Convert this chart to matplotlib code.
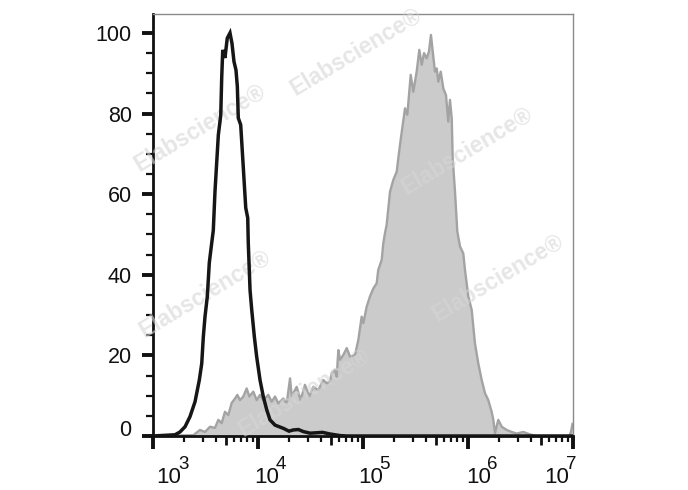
import numpy as np
import matplotlib
matplotlib.use("Agg")
import matplotlib.pyplot as plt
from matplotlib.ticker import FixedLocator, NullFormatter, MultipleLocator
import matplotlib.transforms as mtransforms

# ---------------- data (log10 of fluorescence, % of max) ----------------
black_logx = [3.0, 3.214, 3.262, 3.310, 3.357, 3.405, 3.446, 3.469, 3.484, 3.500,
              3.522, 3.541, 3.564, 3.579, 3.595, 3.627, 3.650, 3.659, 3.669, 3.690,
              3.712, 3.738, 3.757, 3.776, 3.795, 3.808, 3.817, 3.840, 3.865, 3.888,
              3.907, 3.912, 3.929, 3.945, 3.970, 3.992, 4.024, 4.055, 4.088, 4.119,
              4.167, 4.246, 4.300, 4.341, 4.390, 4.436, 4.500, 4.564, 4.620, 4.690,
              4.786, 4.850, 7.0]
black_y = [0, 0.3, 1.0, 2.3, 4.8, 8.5, 13.9, 18.0, 24.6, 29.6,
           34.6, 43.0, 47.9, 51.0, 60.6, 74.7, 79.6, 88.8, 95.8, 93.8,
           98.7, 100.0, 97.4, 92.9, 90.8, 86.7, 78.9, 77.2, 66.5, 56.6,
           54.1, 48.0, 36.2, 31.3, 24.6, 19.7, 13.9, 9.8, 6.5, 4.0,
           2.7, 1.9, 1.2, 1.5, 1.6, 1.1, 0.7, 0.8, 0.9, 0.5,
           0.1, 0, 0]

gray_logx = [3.0, 3.389, 3.452, 3.500, 3.548, 3.595, 3.627, 3.659, 3.690, 3.722,
             3.754, 3.786, 3.808, 3.833, 3.865, 3.897, 3.922, 3.960, 3.992, 4.024,
             4.055, 4.103, 4.135, 4.167, 4.198, 4.246, 4.278, 4.310, 4.326, 4.373,
             4.411, 4.452, 4.493, 4.531, 4.579, 4.627, 4.659, 4.690, 4.707, 4.738,
             4.754, 4.770, 4.786, 4.817, 4.850, 4.881, 4.929, 4.960, 4.992, 5.008,
             5.040, 5.071, 5.103, 5.135, 5.150, 5.183, 5.198, 5.214, 5.230, 5.262,
             5.293, 5.326, 5.341, 5.357, 5.383, 5.405, 5.427, 5.459, 5.484, 5.516,
             5.541, 5.564, 5.586, 5.611, 5.633, 5.652, 5.669, 5.690, 5.707, 5.722,
             5.745, 5.770, 5.795, 5.817, 5.833, 5.850, 5.859, 5.881, 5.903, 5.929,
             5.960, 5.976, 6.008, 6.040, 6.071, 6.103, 6.135, 6.167, 6.198, 6.230,
             6.246, 6.262, 6.293, 6.326, 6.373, 6.421, 6.469, 6.531, 6.595, 6.659,
             6.970, 6.985, 7.0]
gray_y = [0, 0.2, 1.5, 1.0, 2.3, 2.0, 4.0, 3.2, 6.0, 5.2,
          8.2, 9.3, 10.2, 8.9, 9.8, 11.8, 9.8, 11.0, 8.9, 10.2,
          8.9, 10.2, 8.5, 9.8, 8.1, 9.3, 8.1, 14.3, 9.8, 12.2,
          8.9, 12.7, 9.8, 12.2, 11.4, 13.9, 13.1, 13.5, 15.6, 16.4,
          14.7, 21.3, 18.9, 20.1, 21.8, 19.7, 20.1, 23.8, 29.6, 28.0,
          32.1, 34.6, 36.6, 37.9, 41.2, 43.7, 47.8, 50.3, 52.4, 60.6,
          63.5, 65.6, 68.9, 72.2, 77.2, 81.3, 79.7, 89.6, 85.4, 90.4,
          95.8, 92.1, 95.0, 93.7, 95.4, 99.5, 95.4, 90.4, 91.2, 87.9,
          90.4, 86.2, 84.6, 78.0, 83.4, 78.8, 68.9, 60.6, 50.7, 47.0,
          45.3, 41.2, 34.6, 31.3, 23.0, 18.0, 13.9, 10.6, 8.9, 6.0,
          4.0, 0.7, 4.0, 2.3, 1.5, 1.0, 0.6, 1.0, 0.4, 0,
          0, 1.0, 3.0]

decades = [3, 4, 5, 6, 7]
y_major = [0, 20, 40, 60, 80, 100]
watermark = "Elabscience®"

FONT = ["Liberation Sans Narrow", "Liberation Sans", "DejaVu Sans"]
plt.rcParams["font.family"] = FONT

W, H = 688, 490
fig = plt.figure(figsize=(W / 100, H / 100), dpi=100)
ax = fig.add_axes([152.5 / W, 1 - 436 / H, (572.5 - 152.5) / W, (436 - 14) / H])

gx = 10 ** np.array(gray_logx)
bx = 10 ** np.array(black_logx)
ax.fill_between(gx, gray_y, 0, color="#cbcbcb", lw=0, zorder=1)
ax.plot(gx, gray_y, color="#a3a3a3", lw=1.7, zorder=2)
ax.plot(bx, black_y, color="#161616", lw=2.5, zorder=4, solid_joinstyle="miter")

ax.set_xscale("log")
ax.set_xlim(10 ** decades[0], 10 ** decades[-1])
ax.set_ylim(0, 104.7)

# x ticks: decades (long), 5x (medium), others (short)
fives = [5 * 10 ** d for d in decades[:-1]]
major_locs = sorted([10 ** d for d in decades] + fives)
minor_locs = [m * 10 ** d for d in decades[:-1] for m in (2, 3, 4, 6, 7, 8, 9)]
ax.xaxis.set_major_locator(FixedLocator(major_locs))
ax.xaxis.set_minor_locator(FixedLocator(minor_locs))
ax.xaxis.set_major_formatter(NullFormatter())
ax.xaxis.set_minor_formatter(NullFormatter())
ax.tick_params(axis="x", which="major", direction="out", length=9, width=2.8, color="#111111")
ax.tick_params(axis="x", which="minor", direction="out", length=4.5, width=1.6, color="#111111")
fig.canvas.draw()
for t in ax.xaxis.get_major_ticks():
    loc = t.get_loc()
    if loc is not None and any(abs(loc - f) / f < 1e-6 for f in fives):
        t.tick1line.set_markersize(6.5)
        t.tick1line.set_markeredgewidth(2.0)

# y ticks
ax.yaxis.set_major_locator(FixedLocator(y_major))
ax.yaxis.set_minor_locator(MultipleLocator(5))
ax.tick_params(axis="y", which="major", direction="out", length=8, width=2.8,
               color="#111111", pad=7, labelsize=15.5, labelcolor="#111111")
ax.tick_params(axis="y", which="minor", direction="out", length=5, width=1.6, color="#111111")
ax.set_yticklabels([str(v) for v in y_major])
fig.canvas.draw()
lbl0 = ax.yaxis.get_major_ticks()[0].label1
lbl0.set_transform(lbl0.get_transform() + mtransforms.ScaledTranslation(0, 8 / 100, fig.dpi_scale_trans))

for side in ("left", "bottom"):
    ax.spines[side].set_color("#111111")
    ax.spines[side].set_linewidth(2.0)
for side in ("top", "right"):
    ax.spines[side].set_color("#8a8a8a")
    ax.spines[side].set_linewidth(1.0)

# x decade labels: "10" plus raised exponent
label_dx = [4.0, -3.0, -4.5, -1.5, -28.0]
for d, dx in zip(decades, label_dx):
    ax.annotate("10", xy=(10 ** d, 0), xycoords=("data", "axes fraction"),
                xytext=(dx, -47), textcoords="offset pixels", ha="left", va="baseline",
                fontsize=16, color="#111111", annotation_clip=False)
    ax.annotate(str(d), xy=(10 ** d, 0), xycoords=("data", "axes fraction"),
                xytext=(dx + 21.5, -33), textcoords="offset pixels", ha="left", va="baseline",
                fontsize=13.5, color="#111111", annotation_clip=False)

# watermarks
wm_pos = [(356, 52), (200, 128), (467, 151), (205, 294), (498, 278), (304, 393)]
for (px, py) in wm_pos:
    ax.text(px / W, 1 - py / H, watermark, transform=fig.transFigure, rotation=31,
            ha="center", va="center", fontsize=16.5, fontweight="bold",
            color="#d6d6d6", alpha=0.6, zorder=3, clip_on=False)

fig.savefig("out.png", dpi=100)
